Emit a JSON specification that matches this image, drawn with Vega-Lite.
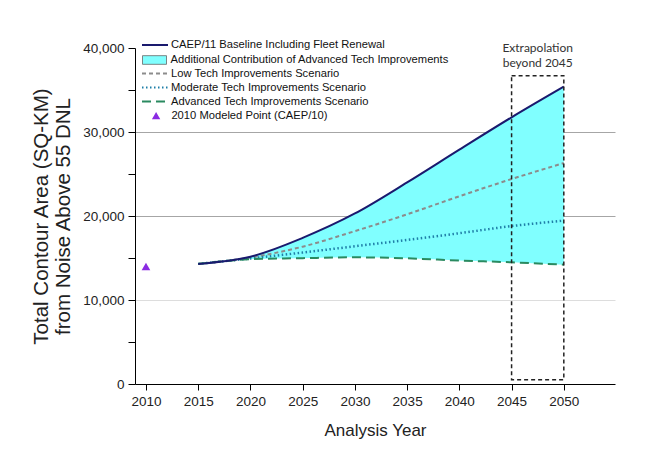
{
  "$schema": "https://vega.github.io/schema/vega-lite/v6.json",
  "width": 480,
  "height": 336,
  "autosize": "none",
  "padding": {"left": 135, "top": 48, "right": 34, "bottom": 78},
  "background": "white",
  "config": {
    "font": "Liberation Sans",
    "view": {"stroke": null},
    "axis": {
      "domainColor": "#000000",
      "tickColor": "#000000",
      "labelColor": "#222222",
      "titleColor": "#222222",
      "labelFont": "Liberation Sans",
      "titleFont": "Liberation Sans",
      "titleFontWeight": "normal",
      "labelOverlap": false,
      "labelFlush": false
    },
    "legend": {
      "orient": "none", "padding": 0, "title": null, "rowPadding": 0,
      "labelFontSize": 11.2, "labelFont": "Liberation Sans", "labelColor": "#111111", "labelLimit": 400
    }
  },
  "datasets": {
    "scenarios": [
      {"year": 2015, "baseline": 14300, "low": 14300, "moderate": 14300, "advanced": 14300},
      {"year": 2020, "baseline": 15150, "low": 15050, "moderate": 14950, "advanced": 14850},
      {"year": 2025, "baseline": 17400, "low": 16350, "moderate": 15650, "advanced": 14980},
      {"year": 2030, "baseline": 20300, "low": 18200, "moderate": 16400, "advanced": 15080},
      {"year": 2035, "baseline": 24000, "low": 20200, "moderate": 17150, "advanced": 14960},
      {"year": 2040, "baseline": 27900, "low": 22350, "moderate": 17950, "advanced": 14700},
      {"year": 2045, "baseline": 31750, "low": 24400, "moderate": 18800, "advanced": 14490},
      {"year": 2050, "baseline": 35400, "low": 26300, "moderate": 19450, "advanced": 14200}
    ],
    "modeled": [{"year": 2010, "area": 14000}],
    "extrap": [{"start": 2045, "end": 2050, "mid": 2047.5, "bottom": 500, "top": 36700, "note": "Extrapolation\nbeyond 2045"}]
  },
  "layer": [
    {
      "data": {"name": "scenarios"},
      "mark": {"type": "area", "interpolate": "monotone", "opacity": 1},
      "encoding": {
        "x": {
          "field": "year", "type": "quantitative",
          "scale": {"domain": [2008.95, 2054.9], "nice": false, "zero": false},
          "axis": {
            "values": [2010, 2015, 2020, 2025, 2030, 2035, 2040, 2045, 2050],
            "format": "d", "grid": false, "tickSize": 6, "labelPadding": 4,
            "labelFontSize": 13.5, "title": "Analysis Year", "titleFontSize": 17, "titlePadding": 15
          }
        },
        "y": {
          "field": "baseline", "type": "quantitative",
          "scale": {"domain": [0, 40000], "nice": false},
          "axis": {
            "values": [0, 5000, 10000, 15000, 20000, 25000, 30000, 35000, 40000],
            "labelExpr": "datum.value % 10000 === 0 ? format(datum.value, ',') : ''",
            "tickSize": 7, "labelPadding": 4, "labelFontSize": 13.5,
            "title": ["Total Contour Area (SQ-KM)", "from Noise Above 55 DNL"],
            "titleFontSize": 20.5, "titleLineHeight": 22, "titlePadding": 9,
            "grid": true,
            "gridColor": {"condition": {"test": "datum.value === 10000", "value": "#dddddd"}, "value": "#a6a6a6"},
            "gridOpacity": {"condition": {"test": "datum.value === 10000 || datum.value === 20000 || datum.value === 30000", "value": 1}, "value": 0}
          }
        },
        "y2": {"field": "advanced"},
        "fill": {
          "datum": "Additional Contribution of Advanced Tech Improvements",
          "type": "nominal",
          "scale": {"range": ["#80ffff"]},
          "legend": {
            "legendX": 7, "legendY": -0.5,
            "symbolType": "M-1,-0.36H1V0.36H-1Z", "symbolSize": 576,
            "symbolStrokeWidth": 0.8, "symbolStrokeColor": "#666666",
            "symbolOffset": 0, "labelOffset": 3.5
          }
        }
      }
    },
    {
      "data": {"name": "scenarios"},
      "mark": {"type": "line", "interpolate": "monotone", "strokeWidth": 2},
      "encoding": {
        "x": {"field": "year", "type": "quantitative"},
        "y": {"field": "low", "type": "quantitative"},
        "color": {
          "datum": "Low Tech Improvements Scenario", "type": "nominal",
          "scale": {
            "domain": ["Low Tech Improvements Scenario", "Moderate Tech Improvements Scenario", "Advanced Tech Improvements Scenario"],
            "range": ["#8c8c8c", "#1f7fa8", "#2a8a60"]
          },
          "legend": {
            "legendX": 6, "legendY": 18.5, "symbolType": "stroke", "symbolSize": 676, "clipHeight": 14,
            "symbolStrokeWidth": 2, "symbolOffset": 0, "labelOffset": 2
          }
        },
        "strokeDash": {
          "datum": "Low Tech Improvements Scenario", "type": "nominal",
          "scale": {
            "domain": ["Low Tech Improvements Scenario", "Moderate Tech Improvements Scenario", "Advanced Tech Improvements Scenario"],
            "range": [[4, 3], [1.5, 2.5], [9, 5]]
          },
          "legend": {
            "legendX": 6, "legendY": 18.5, "symbolType": "stroke", "symbolSize": 676, "clipHeight": 14,
            "symbolStrokeWidth": 2, "symbolOffset": 0, "labelOffset": 2
          }
        }
      }
    },
    {
      "data": {"name": "scenarios"},
      "mark": {"type": "line", "interpolate": "monotone", "strokeWidth": 2.5},
      "encoding": {
        "x": {"field": "year", "type": "quantitative"},
        "y": {"field": "moderate", "type": "quantitative"},
        "color": {"datum": "Moderate Tech Improvements Scenario", "type": "nominal"},
        "strokeDash": {"datum": "Moderate Tech Improvements Scenario", "type": "nominal"}
      }
    },
    {
      "data": {"name": "scenarios"},
      "mark": {"type": "line", "interpolate": "monotone", "strokeWidth": 2},
      "encoding": {
        "x": {"field": "year", "type": "quantitative"},
        "y": {"field": "advanced", "type": "quantitative"},
        "color": {"datum": "Advanced Tech Improvements Scenario", "type": "nominal"},
        "strokeDash": {"datum": "Advanced Tech Improvements Scenario", "type": "nominal"}
      }
    },
    {
      "data": {"name": "scenarios"},
      "mark": {"type": "line", "interpolate": "monotone", "strokeWidth": 2},
      "encoding": {
        "x": {"field": "year", "type": "quantitative"},
        "y": {"field": "baseline", "type": "quantitative"},
        "stroke": {
          "datum": "CAEP/11 Baseline Including Fleet Renewal", "type": "nominal",
          "scale": {"range": ["#1a1a6e"]},
          "legend": {
            "legendX": 6, "legendY": -17, "symbolType": "stroke", "symbolSize": 676,
            "symbolStrokeWidth": 2, "symbolOffset": 0, "labelOffset": 2
          }
        }
      }
    },
    {
      "data": {"name": "modeled"},
      "mark": {"type": "point", "shape": "triangle-up", "filled": true, "size": 75, "opacity": 1, "color": "#8a2be2"},
      "encoding": {
        "x": {"field": "year", "type": "quantitative"},
        "y": {"field": "area", "type": "quantitative"},
        "shape": {
          "datum": "2010 Modeled Point (CAEP/10)", "type": "nominal",
          "scale": {"range": ["triangle-up"]},
          "legend": {
            "legendX": 6, "legendY": 62, "symbolSize": 70, "symbolStrokeWidth": 0,
            "symbolFillColor": "#8a2be2", "symbolOffset": 9.5, "labelOffset": 9.7
          }
        }
      }
    },
    {
      "data": {"name": "extrap"},
      "mark": {"type": "rect", "fill": "transparent", "stroke": "#222222", "strokeDash": [4, 3], "strokeWidth": 1.5},
      "encoding": {
        "x": {"field": "start", "type": "quantitative"},
        "x2": {"field": "end"},
        "y": {"field": "bottom", "type": "quantitative"},
        "y2": {"field": "top"}
      }
    },
    {
      "data": {"name": "extrap"},
      "mark": {"type": "text", "lineBreak": "\n", "baseline": "bottom", "align": "center", "dy": -21, "font": "Lato", "fontSize": 12, "lineHeight": 15, "color": "#333333"},
      "encoding": {
        "x": {"field": "mid", "type": "quantitative"},
        "y": {"field": "top", "type": "quantitative"},
        "text": {"field": "note"}
      }
    }
  ]
}
